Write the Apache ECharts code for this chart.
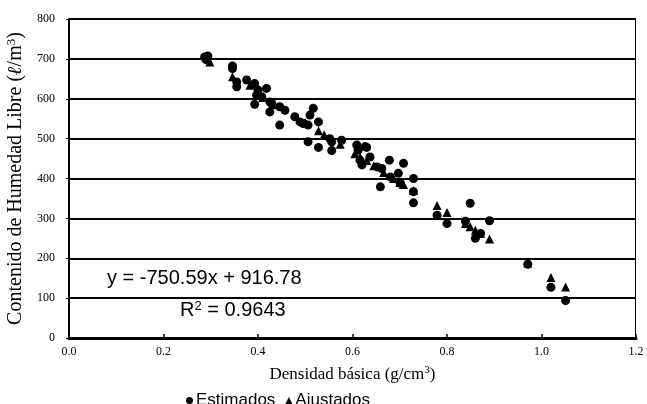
<!DOCTYPE html>
<html><head><meta charset="utf-8">
<script src="https://cdn.jsdelivr.net/npm/echarts@6/dist/echarts.min.js"></script>
<style>html,body{margin:0;padding:0;background:#fff}#c{width:647px;height:404px}</style>
</head><body><div id="c"></div>
<script>
const estimadosX = [0.287,0.294,0.290,0.346,0.346,0.355,0.355,0.376,0.393,0.400,0.418,0.397,0.408,0.393,0.425,0.425,0.429,0.446,0.457,0.446,0.478,0.489,0.496,0.506,0.510,0.517,0.528,0.506,0.528,0.552,0.556,0.577,0.556,0.609,0.612,0.630,0.627,0.616,0.620,0.637,0.652,0.662,0.678,0.708,0.659,0.680,0.697,0.701,0.729,0.729,0.729,0.779,0.800,0.849,0.839,0.860,0.871,0.890,0.971,1.020,1.051];
const estimadosY = [705,707,698,682,676,642,630,647,638,622,626,609,605,586,592,567,588,580,571,534,555,542,538,534,559,576,542,492,478,500,492,496,470,484,471,478,480,446,434,454,429,425,446,438,379,404,413,388,400,367,339,308,287,338,293,250,262,294,185,127,94];
const ajustadosX = [0.298,0.346,0.383,0.400,0.410,0.430,0.500,0.528,0.540,0.574,0.605,0.616,0.630,0.645,0.666,0.687,0.700,0.708,0.729,0.779,0.800,0.839,0.849,0.860,0.871,0.890,0.971,1.020,1.051];
const ajustadosY = [692,655,634,615,603,585,540,520,510,486,462,454,445,432,415,400,390,385,370,332,315,287,279,270,263,248,188,152,128];
const seriesNames = ['Estimados','Ajustados'];
const eqText = 'y = -750.59x + 916.78';
const r2Value = '0.9643';
const xTicks = {min:0, max:1.2, interval:0.2};
const yTicks = {min:0, max:800, interval:100};

const chart = echarts.init(document.getElementById('c'));
const zip = (a,b)=>a.map((v,i)=>[v,b[i]]);
chart.setOption({
  animation:false,
  grid:{left:69,right:11,top:19,bottom:66,containLabel:false,outerBoundsMode:'none'},
  xAxis:{type:'value',min:xTicks.min,max:xTicks.max,interval:xTicks.interval,
    axisLine:{lineStyle:{color:'#000',width:3}},
    axisTick:{inside:true,length:4,lineStyle:{color:'#000',width:1.5}},
    axisLabel:{formatter:v=>v.toFixed(1),color:'#000',fontFamily:'Liberation Serif',fontSize:12,margin:8},
    splitLine:{show:false},
    name:'{a|Densidad básica (g/cm}{s|3}{a|)}',nameLocation:'middle',nameGap:27,
    nameTextStyle:{rich:{a:{fontFamily:'Liberation Serif',fontSize:17,color:'#000'},s:{fontFamily:'Liberation Serif',fontSize:11,color:'#000',verticalAlign:'top',padding:[0,0,9,0]}}}
  },
  yAxis:{type:'value',min:yTicks.min,max:yTicks.max,interval:yTicks.interval,
    axisLine:{show:true,lineStyle:{color:'#000',width:2}},
    axisTick:{show:true,length:3,lineStyle:{color:'#000'}},
    axisLabel:{color:'#000',fontFamily:'Liberation Serif',fontSize:12,margin:14},
    splitLine:{lineStyle:{color:'#000',width:2}},
    name:'{a|Contenido de Humedad Libre (}{i|ℓ}{a|/m}{s|3}{a|)}',nameLocation:'middle',nameGap:36,
    nameTextStyle:{rich:{a:{fontFamily:'Liberation Serif',fontSize:20,color:'#000'},i:{fontFamily:'Liberation Serif',fontStyle:'italic',fontWeight:'bold',fontSize:20,color:'#000'},s:{fontFamily:'Liberation Serif',fontSize:13,color:'#000',verticalAlign:'top',padding:[0,0,10,0]}}}
  },
  legend:{top:387,left:181,itemGap:10,itemWidth:7,itemHeight:7,
    textStyle:{fontFamily:'Liberation Sans',fontSize:17,color:'#000',padding:[0,0,0,-2]},
    data:[{name:seriesNames[0],icon:'circle'},{name:seriesNames[1],icon:'triangle'}]},
  graphic:[
    {type:'rect',shape:{x:635,y:19,width:1,height:319},style:{fill:'#000'}},
    {type:'text',left:107,top:268,style:{text:eqText,font:'20px "Liberation Sans"',fill:'#000'}},
    {type:'text',left:180,top:300,style:{rich:{a:{font:'20px "Liberation Sans"',fill:'#000'},s:{font:'13px "Liberation Sans"',fill:'#000',verticalAlign:'top',padding:[0,0,8,0]}},text:'{a|R}{s|2}{a| = '+r2Value+'}'}}
  ],
  series:[
    {name:seriesNames[0],type:'scatter',symbol:'circle',symbolSize:9,itemStyle:{color:'#000',opacity:1},data:zip(estimadosX,estimadosY)},
    {name:seriesNames[1],type:'scatter',symbol:'triangle',symbolSize:9,itemStyle:{color:'#000',opacity:1},data:zip(ajustadosX,ajustadosY)}
  ]
});
</script></body></html>
